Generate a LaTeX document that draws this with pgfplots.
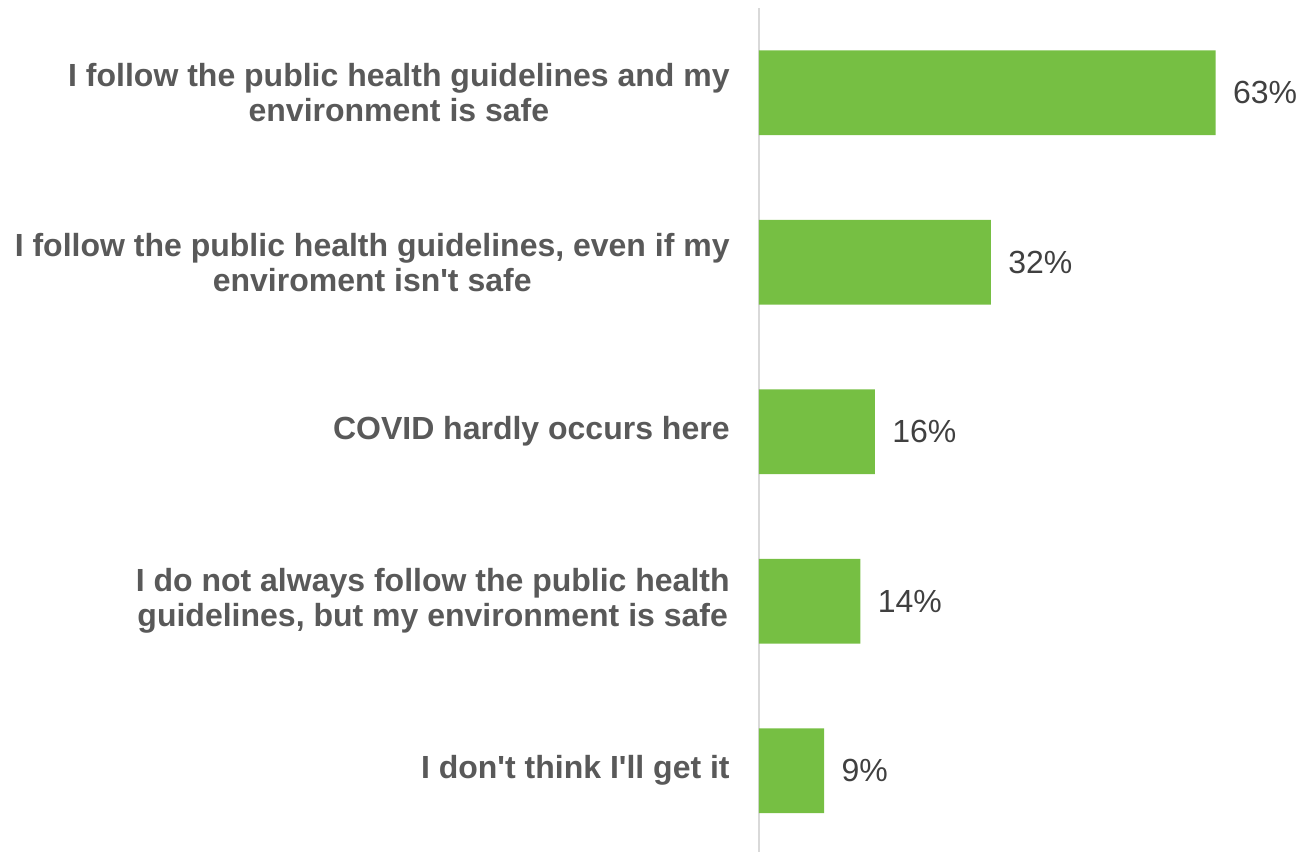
\documentclass[border=0pt]{standalone}
\usepackage{pgfplots}
\pgfplotsset{compat=1.18}
\usepackage{fontspec}
\setmainfont{Liberation Sans}
\definecolor{bargreen}{RGB}{118,191,67}
\definecolor{labgray}{RGB}{89,89,89}
\definecolor{valgray}{RGB}{64,64,64}
\definecolor{axgray}{RGB}{217,217,217}
\begin{document}
\begin{tikzpicture}
\begin{axis}[
  scale only axis,
  width=270pt, height=422pt,
  xbar, bar width=0.5,
  xmin=0, xmax=74.5,
  ymin=-0.5, ymax=4.48,
  y dir=reverse,
  axis y line*=left,
  axis x line=none,
  y axis line style={draw=axgray, line width=0.75pt},
  ytick={0,1,2,3,4},
  major tick length=0pt,
  ytick style={draw=none},
  yticklabels={{I follow the public health guidelines and my\\environment is safe},
    {I follow the public health guidelines, even if my\\enviroment isn\textquotesingle t safe},
    {COVID hardly occurs here},
    {I do not always follow the public health\\guidelines, but my environment is safe},
    {I don\textquotesingle t think I\textquotesingle ll get it}},
  yticklabel style={align=center, font=\fontsize{16}{17.5}\selectfont\bfseries, text=labgray, inner sep=0pt, xshift=-14.5pt},
  /pgf/number format/assume math mode=true,
  nodes near coords={\pgfmathprintnumber\pgfplotspointmeta\%},
  nodes near coords style={font=\fontsize{16}{17.5}\selectfont, text=valgray, inner sep=0pt, anchor=west, xshift=8.5pt},
]
\addplot[fill=bargreen, draw=none] coordinates {(63,0) (32,1) (16,2) (14,3) (9,4)};
\end{axis}
\pgfresetboundingbox
\path (current axis.south west) ++(-379.5pt,0) rectangle ++(649.5pt,426pt);
\end{tikzpicture}
\end{document}
